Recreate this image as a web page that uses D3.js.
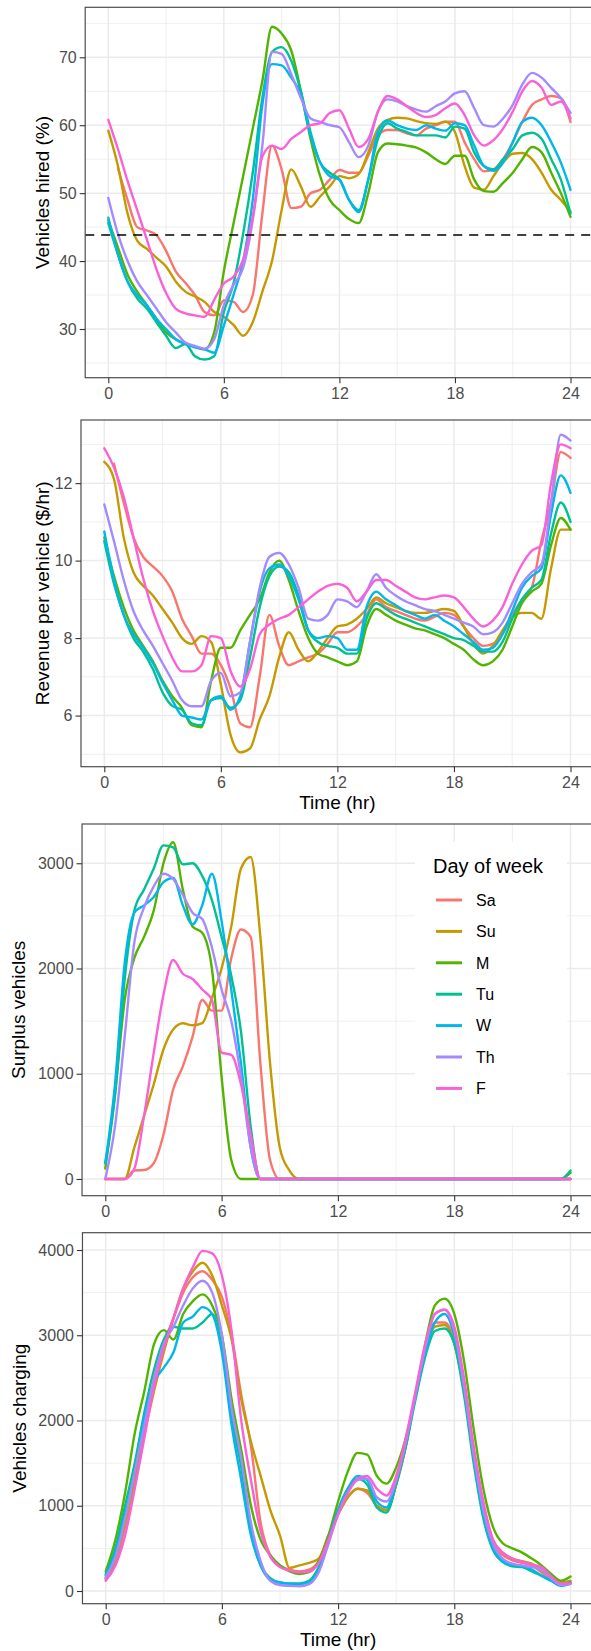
<!DOCTYPE html>
<html>
<head>
<meta charset="utf-8">
<script src="https://cdn.jsdelivr.net/npm/d3@7"></script>
<style>
  body { margin: 0; background: #fff; }
  svg { display: block; }
  text { font-family: "Liberation Sans", Arial, Helvetica, sans-serif; }
</style>
</head>
<body>
<svg id="chart"></svg>
<script>
// ---- data ----
const days = ["Sa", "Su", "M", "Tu", "W", "Th", "F"];
const dayColors = ["#F8766D", "#C49A00", "#53B400", "#00C094", "#00B6EB", "#A58AFF", "#FB61D7"];

const hours = [0, 0.5, 1, 1.5, 2, 2.5, 3, 3.5, 4, 4.5, 5, 5.5, 6, 6.5, 7, 7.5, 8, 8.5, 9, 9.5,
  10, 10.5, 11, 11.5, 12, 12.5, 13, 13.5, 14, 14.5, 15, 15.5, 16, 16.5, 17, 17.5, 18, 18.5, 19, 19.5,
  20, 20.5, 21, 21.5, 22, 22.5, 23, 23.5, 24];
const timeTicks = [0, 6, 12, 18, 24];
const timeMinor = [3, 9, 15, 21];

// Vehicles hired (%)
const hiredSa = [null, 53.7, 49, 45, 44.5, 43.8, 41.5, 38.5, 36.8, 35, 32.5, 32, 34.2, 34, 32.5, 35, 47, 57, 53.5, 47.8, 48, 50, 50.5, 52, 53.4, 53, 53, 55.5, 58.5, 59.3, 59.3, 58.8, 58.5, 59.5, 60, 60.5, 60.5, 57.5, 55, 53.2, 53.5, 55, 57.5, 60.5, 63, 63.8, 64.3, 64, 60.5];
const hiredSu = [59.2, 54, 47, 43, 41.8, 40.5, 39.2, 37, 35.5, 34.8, 34, 32.5, 31.8, 30.6, 29, 31, 35.5, 40, 47.5, 53.5, 51, 48, 49.5, 51, 52.5, 52.2, 52.8, 56, 59.5, 60.8, 61.1, 61, 60.6, 60.3, 60.2, 60.5, 59, 54, 50.8, 50.5, 52.5, 54.5, 55.8, 55.9, 55, 53, 50.5, 49, 47.3];
const hiredM = [46, 42, 38, 35.5, 33.5, 31.5, 29.5, 28.5, 27.8, 27.4, 27, 29.5, 38.5, 45.5, 52.5, 59.5, 66.5, 74.5, 73.5, 71, 65, 58, 52.5, 49, 47.5, 46.2, 45.6, 50, 56, 57.3, 57.2, 57, 56.7, 56, 55, 54.3, 55.5, 55.5, 52, 50.3, 50.2, 51.5, 53, 55, 56.8, 56, 53, 50, 46.5];
const hiredTu = [45.6, 41, 37, 34.5, 33, 31, 29, 27.2, 27.8, 26, 25.5, 26, 32.5, 36.7, 44, 53, 64, 70.8, 71.5, 69.5, 65, 59, 54.5, 53, 52, 49, 47.5, 52, 58, 60.3, 59.5, 59, 58.5, 58.5, 58.5, 58.2, 59.8, 59.5, 56, 54, 53.5, 55, 56.5, 58.5, 58.9, 58, 55, 52, 47];
const hiredW = [46.4, 41, 37, 35, 33.5, 31.5, 30, 28.5, 27.8, 27.3, 27, 26.5, 30.5, 35, 40, 49, 63, 69, 68.8, 67, 64.5, 58.5, 54.5, 52.5, 52, 49, 47.2, 52, 59, 60.7, 60, 59.5, 59.3, 60, 59.5, 59.2, 60.3, 60, 57, 54, 53.3, 54.5, 57.5, 60.5, 61.1, 60, 57.5, 54.5, 50.5];
const hiredTh = [49.3, 44, 40, 37, 35, 33, 31, 29.5, 28, 27.5, 27.1, 28.5, 33.5, 36.5, 39, 46, 57, 70.8, 70.5, 67.5, 64, 61, 60.5, 60, 59.7, 57.5, 55.3, 57, 62, 63.8, 63.5, 62.8, 62.3, 62, 62.8, 63.5, 64.7, 65, 62.5, 60, 59.8, 61, 63, 66, 67.7, 67, 65.5, 64, 61.8];
const hiredF = [60.8, 56.5, 51.8, 47.5, 43.2, 38.8, 35.3, 33, 32.3, 32, 31.8, 34.3, 36.7, 37.7, 40.2, 46.5, 55.4, 57, 56.5, 58, 59, 60, 60.3, 61.8, 62.2, 59.5, 56.8, 58, 62, 64.3, 63.8, 62.8, 61.8, 61.2, 61.5, 62.5, 63.2, 61.5, 58.5, 57, 57.8, 59.5, 62, 65, 66.5, 65.5, 63, 63.5, 61];
const hiredRef = 43.84;

// Revenue per vehicle ($/hr)
const revenueSa = [null, 12.5, 11.5, 10.6, 10.1, 9.85, 9.6, 9.2, 8.5, 8.05, 7.6, 7.6, 7.3, 6.7, 5.8, 5.7, 7.0, 8.6, 7.8, 7.3, 7.4, 7.5, 7.6, 7.85, 8.15, 8.15, 8.3, 8.6, 9.0, 8.8, 8.7, 8.6, 8.5, 8.45, 8.55, 8.65, 8.6, 8.3, 8.0, 7.8, 7.85, 8.1, 8.6, 9.0, 9.3, 10.5, 11.5, 12.8, 12.65];
const revenueSu = [12.55, 12.1, 10.6, 9.7, 9.35, 9.1, 8.75, 8.4, 8.0, 7.85, 8.05, 7.9, 6.8, 5.5, 5.05, 5.15, 5.9, 6.5, 7.5, 8.15, 7.7, 7.4, 7.65, 8.0, 8.3, 8.35, 8.5, 8.75, 9.05, 8.9, 8.8, 8.7, 8.65, 8.65, 8.7, 8.75, 8.7, 8.3, 7.85, 7.6, 7.8, 8.2, 8.55, 8.65, 8.65, 8.5, 9.8, 10.8, 10.8];
const revenueM = [10.6, 9.6, 8.8, 8.2, 7.8, 7.4, 6.9, 6.5, 6.2, 5.75, 5.7, 6.9, 7.75, 7.75, 8.2, 8.6, 9.0, 9.7, 10.0, 9.5, 8.7, 8.0, 7.6, 7.5, 7.4, 7.3, 7.4, 8.3, 8.75, 8.6, 8.45, 8.35, 8.25, 8.2, 8.1, 8.0, 7.85, 7.7, 7.45, 7.3, 7.4, 7.7, 8.3, 8.9, 9.2, 9.4, 10.4, 11.1, 10.8];
const revenueTu = [10.5, 9.4, 8.6, 8.0, 7.65, 7.2, 6.6, 6.25, 6.15, 5.8, 5.75, 6.4, 6.45, 6.2, 6.4, 7.5, 8.8, 9.6, 9.85, 9.7, 9.1, 8.2, 7.9, 7.8, 7.75, 7.6, 7.6, 8.5, 8.9, 8.75, 8.6, 8.5, 8.4, 8.3, 8.2, 8.1, 8.0, 7.95, 7.8, 7.65, 7.65, 7.9, 8.5, 9.0, 9.3, 9.5, 10.7, 11.5, 11.0];
const revenueW = [10.75, 9.5, 8.6, 8.1, 7.75, 7.35, 6.85, 6.4, 6.0, 5.95, 5.9, 6.4, 6.5, 6.15, 6.5, 7.9, 9.2, 9.8, 9.9, 9.6, 9.0, 8.2, 8.0, 8.05, 8.0, 7.7, 7.7, 8.8, 9.2, 9.0, 8.85, 8.7, 8.6, 8.5, 8.6, 8.45, 8.3, 8.1, 7.9, 7.7, 7.75, 8.1, 8.7, 9.3, 9.6, 9.8, 11.2, 12.2, 11.75];
const revenueTh = [11.45, 10.5, 9.5, 8.7, 8.2, 7.8, 7.35, 6.9, 6.4, 6.24, 6.24, 6.9, 7.1, 6.5, 6.6, 7.9, 9.3, 10.1, 10.2, 9.9, 9.3, 8.5, 8.45, 8.6, 9.0, 8.95, 8.8, 9.2, 9.65, 9.3, 9.1, 8.95, 8.85, 8.75, 8.7, 8.6, 8.5, 8.4, 8.3, 8.1, 8.15, 8.4, 8.9, 9.4, 9.7, 9.9, 11.5, 13.25, 13.1];
const revenueF = [12.9, 12.4, 11.65, 10.6, 9.55, 8.7, 8.05, 7.5, 7.14, 7.14, 7.3, 8.05, 8.0, 7.15, 6.75, 7.2, 8.1, 8.35, 8.5, 8.6, 8.8, 9.0, 9.2, 9.35, 9.4, 9.3, 8.95, 9.2, 9.5, 9.5, 9.35, 9.2, 9.05, 9.0, 9.05, 9.1, 9.05, 8.8, 8.5, 8.3, 8.45, 8.8, 9.4, 9.9, 10.25, 10.4, 12.0, 13.0, 12.9];

// Surplus vehicles
const surplusSa = [0, 0, 0, 80, 85, 150, 420, 850, 1070, 1350, 1700, 1600, 1600, 2100, 2370, 2300, 1100, 180, 0, 0,
  0, 0, 0, 0, 0, 0, 0, 0, 0, 0, 0, 0, 0, 0, 0, 0, 0, 0, 0, 0, 0, 0, 0, 0, 0, 0, 0, 0, 0];
const surplusSu = [0, 0, 0, 300, 600, 900, 1230, 1420, 1480, 1460, 1480, 1720, 2000, 2400, 2950, 3060, 2300, 1100, 300, 80,
  0, 0, 0, 0, 0, 0, 0, 0, 0, 0, 0, 0, 0, 0, 0, 0, 0, 0, 0, 0, 0, 0, 0, 0, 0, 0, 0, 0, 0];
const surplusM = [100, 800, 1700, 2100, 2300, 2550, 3000, 3200, 2750, 2400, 2340, 2000, 970, 180, 0, 0, 0, 0, 0, 0,
  0, 0, 0, 0, 0, 0, 0, 0, 0, 0, 0, 0, 0, 0, 0, 0, 0, 0, 0, 0, 0, 0, 0, 0, 0, 0, 0, 0, 60];
const surplusTu = [150, 800, 1900, 2550, 2750, 2950, 3170, 3150, 2990, 3000, 2880, 2650, 2300, 1930, 1400, 500, 0, 0, 0, 0,
  0, 0, 0, 0, 0, 0, 0, 0, 0, 0, 0, 0, 0, 0, 0, 0, 0, 0, 0, 0, 0, 0, 0, 0, 0, 0, 0, 0, 80];
const surplusW = [150, 900, 2050, 2530, 2600, 2680, 2820, 2860, 2600, 2420, 2600, 2900, 2450, 1800, 1100, 300, 0, 0, 0, 0,
  0, 0, 0, 0, 0, 0, 0, 0, 0, 0, 0, 0, 0, 0, 0, 0, 0, 0, 0, 0, 0, 0, 0, 0, 0, 0, 0, 0, 0];
const surplusTh = [0, 500, 1350, 2250, 2580, 2780, 2900, 2850, 2700, 2530, 2470, 2200, 1800, 1500, 970, 300, 0, 0, 0, 0,
  0, 0, 0, 0, 0, 0, 0, 0, 0, 0, 0, 0, 0, 0, 0, 0, 0, 0, 0, 0, 0, 0, 0, 0, 0, 0, 0, 0, 0];
const surplusF = [0, 0, 0, 100, 600, 1200, 1750, 2080, 1950, 1900, 1800, 1700, 1200, 1180, 900, 420, 0, 0, 0, 0,
  0, 0, 0, 0, 0, 0, 0, 0, 0, 0, 0, 0, 0, 0, 0, 0, 0, 0, 0, 0, 0, 0, 0, 0, 0, 0, 0, 0, 0];

// Vehicles charging
const chargingSa = [140, 350, 750, 1300, 1900, 2450, 2900, 3200, 3500, 3680, 3750, 3650, 3450, 3000, 2300, 1700, 800, 420, 300, 250, 230, 250, 350, 650, 900, 1100, 1200, 1150, 1000, 950, 1250, 1700, 2300, 2850, 3150, 3150, 2950, 2400, 1600, 950, 550, 420, 360, 330, 300, 220, 140, 90, 100];
const chargingSu = [150, 380, 800, 1300, 1850, 2350, 2800, 3200, 3550, 3750, 3850, 3700, 3350, 2950, 2250, 1750, 1350, 950, 650, 270, 300, 330, 380, 650, 900, 1100, 1200, 1180, 1000, 950, 1250, 1700, 2300, 2800, 3100, 3120, 2900, 2350, 1600, 1000, 600, 450, 380, 350, 320, 250, 160, 100, 120];
const chargingM = [230, 600, 1150, 1850, 2350, 2900, 3060, 2950, 3250, 3400, 3480, 3350, 3000, 2250, 1650, 1000, 600, 420, 300, 230, 200, 220, 350, 650, 1050, 1400, 1620, 1600, 1350, 1260, 1450, 1800, 2300, 2900, 3350, 3430, 3250, 2700, 1900, 1200, 750, 560, 500, 450, 380, 300, 200, 120, 170];
const chargingTu = [200, 500, 1000, 1500, 2100, 2600, 2950, 3100, 3080, 3080, 3150, 3250, 2850, 2050, 1450, 700, 300, 150, 100, 90, 90, 120, 280, 600, 950, 1200, 1320, 1250, 980, 920, 1250, 1700, 2250, 2750, 3050, 3080, 2900, 2300, 1500, 850, 480, 340, 290, 280, 230, 180, 120, 70, 100];
const chargingW = [180, 450, 900, 1400, 2050, 2450, 2620, 2800, 3150, 3220, 3330, 3250, 2800, 1950, 1300, 650, 300, 130, 100, 85, 80, 100, 250, 600, 950, 1200, 1350, 1300, 1050, 980, 1300, 1750, 2300, 2800, 3150, 3250, 3000, 2400, 1600, 900, 500, 350, 300, 290, 250, 180, 120, 60, 90];
const chargingTh = [160, 400, 850, 1400, 1950, 2500, 2900, 3100, 3350, 3550, 3640, 3500, 3000, 2150, 1550, 800, 350, 120, 70, 60, 55, 80, 220, 550, 900, 1150, 1300, 1320, 1100, 1050, 1300, 1750, 2300, 2850, 3250, 3300, 3050, 2400, 1600, 950, 550, 380, 320, 300, 280, 250, 150, 70, 80];
const chargingF = [120, 300, 650, 1200, 1800, 2400, 2850, 3200, 3550, 3800, 3990, 3960, 3700, 3050, 2000, 1300, 700, 400, 280, 240, 220, 230, 330, 600, 900, 1150, 1320, 1350, 1200, 1120, 1350, 1800, 2350, 2900, 3250, 3300, 3100, 2500, 1700, 1050, 600, 450, 380, 340, 310, 280, 170, 90, 90];

// ---- layout ----
const width = 591, height = 1651;
const svg = d3.select("#chart").attr("width", width).attr("height", height);

const panels = [
  { series: [hiredSa, hiredSu, hiredM, hiredTu, hiredW, hiredTh, hiredF],
    yDomain: [22.83, 77.36], yTicks: [30, 40, 50, 60, 70], yMinor: [25, 35, 45, 55, 65, 75],
    label: "Vehicles hired (%)", top: 7.3, bottom: 377.7, x0: 108.3, labelX: 42.7,
    timeTitle: false, ref: hiredRef, legend: false },
  { series: [revenueSa, revenueSu, revenueM, revenueTu, revenueW, revenueTh, revenueF],
    yDomain: [4.68, 13.63], yTicks: [6, 8, 10, 12], yMinor: [5, 7, 9, 11, 13],
    label: "Revenue per vehicle ($/hr)", top: 420, bottom: 766.7, x0: 104.3, labelX: 42.5,
    timeTitle: true, ref: null, legend: false },
  { series: [surplusSa, surplusSu, surplusM, surplusTu, surplusW, surplusTh, surplusF],
    yDomain: [-159, 3373], yTicks: [0, 1000, 2000, 3000], yMinor: [500, 1500, 2500],
    label: "Surplus vehicles", top: 824, bottom: 1195.7, x0: 105.3, labelX: 18,
    timeTitle: false, ref: null, legend: true },
  { series: [chargingSa, chargingSu, chargingM, chargingTu, chargingW, chargingTh, chargingF],
    yDomain: [-149, 4203], yTicks: [0, 1000, 2000, 3000, 4000], yMinor: [500, 1500, 2500, 3500],
    label: "Vehicles charging", top: 1232.7, bottom: 1603.7, x0: 105.7, labelX: 19.5,
    timeTitle: true, ref: null, legend: false }
];

panels.forEach(function (p, pi) {
  const x = d3.scaleLinear().domain([0, 24]).range([p.x0, 570.5]);
  const y = d3.scaleLinear().domain(p.yDomain).range([p.bottom, p.top]);
  const left = x(-1.2), right = x(25.2);

  const g = svg.append("g").attr("class", "panel" + pi);

  g.append("clipPath").attr("id", "clip" + pi)
    .append("rect")
    .attr("x", left).attr("y", p.top)
    .attr("width", right - left).attr("height", p.bottom - p.top);

  // grid
  const grid = g.append("g").attr("class", "grid");
  grid.selectAll("line.vminor").data(timeMinor).enter().append("line")
    .attr("x1", d => x(d)).attr("x2", d => x(d))
    .attr("y1", p.top).attr("y2", p.bottom)
    .attr("stroke", "#EBEBEB").attr("stroke-width", 0.8);
  grid.selectAll("line.hminor").data(p.yMinor).enter().append("line")
    .attr("x1", left).attr("x2", right)
    .attr("y1", d => y(d)).attr("y2", d => y(d))
    .attr("stroke", "#EBEBEB").attr("stroke-width", 0.8);
  grid.selectAll("line.vmajor").data(timeTicks).enter().append("line")
    .attr("x1", d => x(d)).attr("x2", d => x(d))
    .attr("y1", p.top).attr("y2", p.bottom)
    .attr("stroke", "#EBEBEB").attr("stroke-width", 1.5);
  grid.selectAll("line.hmajor").data(p.yTicks).enter().append("line")
    .attr("x1", left).attr("x2", right)
    .attr("y1", d => y(d)).attr("y2", d => y(d))
    .attr("stroke", "#EBEBEB").attr("stroke-width", 1.5);

  // series
  const line = d3.line()
    .defined(d => d[1] != null)
    .x(d => x(d[0]))
    .y(d => y(d[1]))
    .curve(d3.curveMonotoneX);

  g.append("g").attr("clip-path", "url(#clip" + pi + ")")
    .selectAll("path")
    .data(p.series)
    .enter()
    .append("path")
    .attr("d", s => line(hours.map((h, i) => [h, s[i]])))
    .attr("fill", "none")
    .attr("stroke", (s, i) => dayColors[i])
    .attr("stroke-width", 2.4)
    .attr("stroke-linejoin", "round")
    .attr("stroke-linecap", "round");

  if (p.ref != null) {
    g.append("line")
      .attr("x1", left).attr("x2", right)
      .attr("y1", y(p.ref)).attr("y2", y(p.ref))
      .attr("stroke", "#000").attr("stroke-width", 1.5)
      .attr("stroke-dasharray", "9,7");
  }

  // legend inside the surplus panel
  if (p.legend) {
    const lg = g.append("g").attr("class", "legend");
    lg.append("rect")
      .attr("x", 415).attr("y", 842).attr("width", 152).attr("height", 283)
      .attr("fill", "#fff");
    lg.append("text")
      .attr("x", 433).attr("y", 873)
      .attr("font-size", 20).attr("fill", "#000")
      .text("Day of week");
    const items = lg.selectAll("g.item").data(days).enter().append("g")
      .attr("transform", (d, i) => "translate(0," + (900 + i * 31.4) + ")");
    items.append("line")
      .attr("x1", 436).attr("x2", 462)
      .attr("stroke", (d, i) => dayColors[i]).attr("stroke-width", 3);
    items.append("text")
      .attr("x", 476).attr("dy", "0.36em")
      .attr("font-size", 16).attr("fill", "#000")
      .text(d => d);
  }

  // border
  g.append("rect")
    .attr("x", left).attr("y", p.top)
    .attr("width", right - left).attr("height", p.bottom - p.top)
    .attr("fill", "none").attr("stroke", "#4D4D4D").attr("stroke-width", 1.2);

  // axes
  const yAxis = g.append("g")
    .attr("transform", "translate(" + left + ",0)")
    .call(d3.axisLeft(y).tickValues(p.yTicks).tickFormat(d3.format("d")).tickSize(5.5).tickPadding(3));
  const xAxis = g.append("g")
    .attr("transform", "translate(0," + p.bottom + ")")
    .call(d3.axisBottom(x).tickValues(timeTicks).tickFormat(d3.format("d")).tickSize(5.5).tickPadding(4.4));

  [yAxis, xAxis].forEach(function (a) {
    a.select(".domain").remove();
    a.selectAll(".tick line").attr("stroke", "#333").attr("stroke-width", 1.1);
    a.selectAll(".tick text")
      .attr("fill", "#4D4D4D")
      .attr("font-size", 16)
      .attr("font-family", '"Liberation Sans", Arial, Helvetica, sans-serif');
  });

  // axis titles
  g.append("text")
    .attr("transform", "translate(" + p.labelX + "," + ((p.top + p.bottom) / 2) + ") rotate(-90)")
    .attr("text-anchor", "middle")
    .attr("dy", "0.35em")
    .attr("font-size", 19)
    .attr("fill", "#000")
    .text(p.label);

  if (p.timeTitle) {
    g.append("text")
      .attr("x", (left + right) / 2)
      .attr("y", p.bottom + 36)
      .attr("text-anchor", "middle")
      .attr("dy", "0.35em")
      .attr("font-size", 19)
      .attr("fill", "#000")
      .text("Time (hr)");
  }
});
</script>
</body>
</html>
